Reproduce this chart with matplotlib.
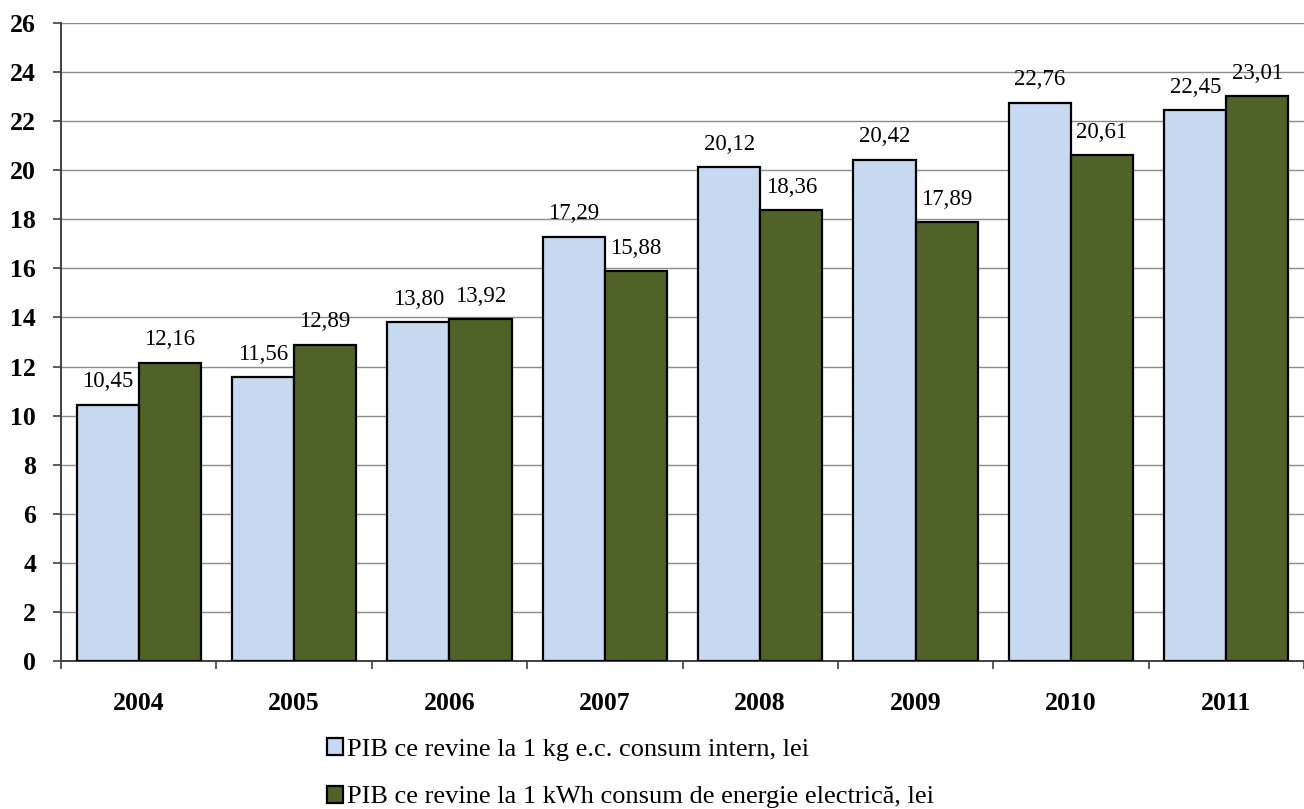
import matplotlib
matplotlib.use("Agg")
import matplotlib.pyplot as plt
from matplotlib.patches import Patch
import numpy as np

years = ["2004", "2005", "2006", "2007", "2008", "2009", "2010", "2011"]
pib_kg = [10.45, 11.56, 13.80, 17.29, 20.12, 20.42, 22.76, 22.45]
pib_kwh = [12.16, 12.89, 13.92, 15.88, 18.36, 17.89, 20.61, 23.01]
yticks = list(range(0, 27, 2))
label_kg = "PIB ce revine la 1 kg e.c. consum intern, lei"
label_kwh = "PIB ce revine la 1 kWh consum de energie electrică, lei"

plt.rcParams['font.family'] = ['Liberation Serif', 'DejaVu Serif']

W, H = 1304, 809
fig = plt.figure(figsize=(W / 100, H / 100), dpi=100)
left_px, right_px, top_px, bot_px = 61, 1304, 23, 661
ax = fig.add_axes([left_px / W, (H - bot_px) / H, (right_px - left_px) / W, (bot_px - top_px) / H])

x = np.arange(len(years))
bw = 0.4
c1, c2 = "#C6D9F1", "#4F6228"
b1 = ax.bar(x - bw / 2, pib_kg, bw, color=c1, edgecolor="black", linewidth=1.6, zorder=3)
b2 = ax.bar(x + bw / 2, pib_kwh, bw, color=c2, edgecolor="black", linewidth=1.6, zorder=3)

def fmt(v):
    return f"{v:.2f}".replace(".", ",")

for rects, vals in ((b1, pib_kg), (b2, pib_kwh)):
    for r, v in zip(rects, vals):
        ax.annotate(fmt(v), (r.get_x() + r.get_width() / 2, v), xytext=(0, 9),
                    textcoords="offset points", ha="center", va="bottom", fontsize=16.5)

unit_px = 156.0
ax.set_xlim(-0.5, -0.5 + (right_px - left_px) / unit_px)
ax.set_ylim(0, 26)
ax.set_yticks(yticks)
ax.set_yticklabels([str(t) for t in yticks], fontsize=18.5, fontweight="bold")
ax.set_xticks(x)
ax.set_xticklabels(years, fontsize=18.5, fontweight="bold")
ax.set_xticks(np.arange(len(years) + 1) - 0.5, minor=True)
ax.tick_params(axis="x", which="major", length=0, pad=22)
ax.tick_params(axis="x", which="minor", length=6, color="#404040", width=1.2)
ax.tick_params(axis="y", length=6, color="#404040", width=1.2, pad=12)

ax.yaxis.grid(True, color="#8c8c8c", linewidth=1.0, zorder=0)
ax.set_axisbelow(True)
for s in ("top", "right"):
    ax.spines[s].set_visible(False)
for s in ("left", "bottom"):
    ax.spines[s].set_color("#404040")
    ax.spines[s].set_linewidth(1.4)

handles = [Patch(facecolor=c1, edgecolor="black", linewidth=1.6, label=label_kg),
           Patch(facecolor=c2, edgecolor="black", linewidth=1.6, label=label_kwh)]
fig.legend(handles=handles, loc="upper left", bbox_to_anchor=(327 / W, 1 - 738 / H),
           frameon=False, fontsize=19, ncol=1, handlelength=0.6, handleheight=0.6,
           handletextpad=0.15, labelspacing=0.95, borderpad=0, borderaxespad=0)

fig.savefig("out.png", dpi=100)
